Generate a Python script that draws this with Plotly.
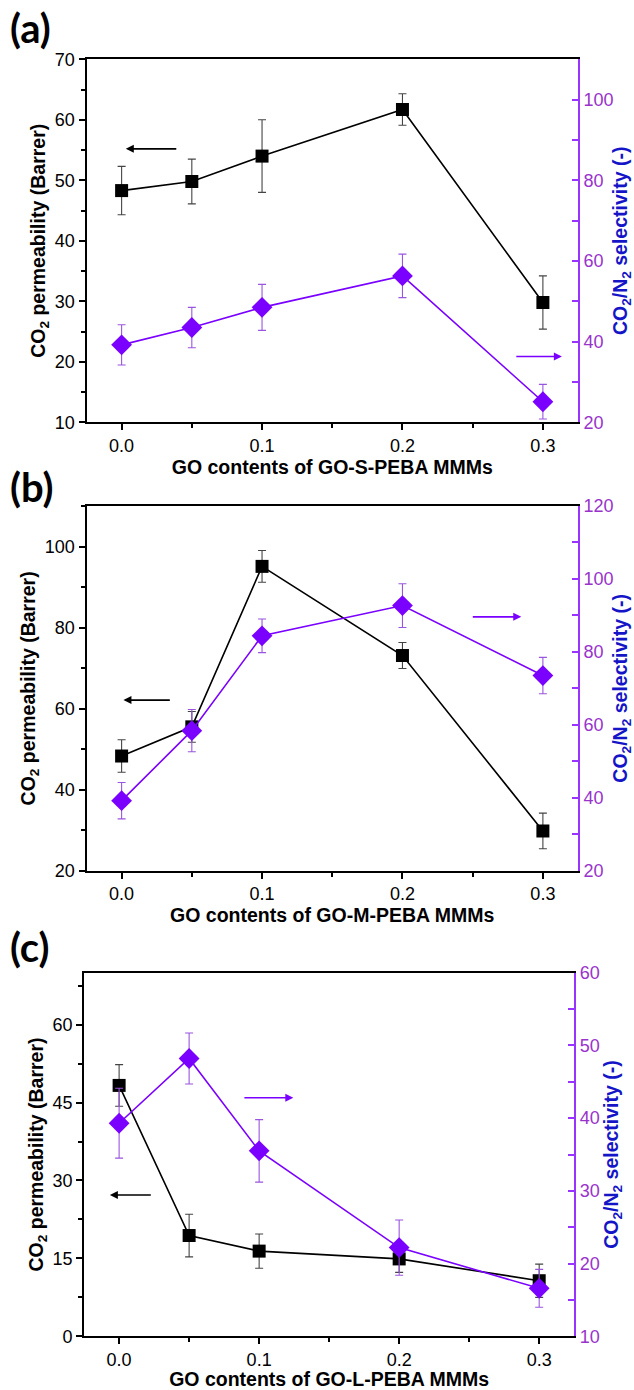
import plotly.graph_objects as go

# ---------------- data ----------------
go_content = [0.0, 0.05, 0.1, 0.2, 0.3]

perm_a = [48.3, 49.8, 54.0, 61.7, 29.8]
perm_a_err = [4.0, 3.7, 6.0, 2.6, 4.4]
sel_a = [39.2, 43.5, 48.5, 56.3, 25.1]
sel_a_err = [5.0, 5.0, 5.7, 5.4, 4.3]

perm_b = [48.3, 55.5, 95.1, 73.1, 29.8]
perm_b_err = [4.0, 3.8, 3.9, 3.2, 4.4]
sel_b = [39.2, 58.4, 84.4, 92.7, 73.5]
sel_b_err = [5.0, 5.8, 4.6, 6.0, 5.0]

perm_c = [48.3, 19.4, 16.4, 14.9, 10.7]
perm_c_err = [4.0, 4.1, 3.3, 2.6, 3.2]
sel_c = [39.3, 48.2, 35.5, 22.2, 16.6]
sel_c_err = [4.8, 3.5, 4.3, 3.8, 2.6]

x_ticks = [0.0, 0.1, 0.2, 0.3]
x_ticktext = ["0.0", "0.1", "0.2", "0.3"]

panels = [
    dict(label="(a)", perm=perm_a, perm_err=perm_a_err, sel=sel_a, sel_err=sel_a_err,
         xtitle="GO contents of GO-S-PEBA MMMs",
         yl_range=[10, 70], yl_dtick=10, yl_minor=5,
         yr_range=[20, 110], yr_tickvals=[20, 40, 60, 80, 100], yr_minor=10,
         arrow_left=dict(x=0.003, y=55.2, ax=0.040, ay=55.2),
         arrow_right=dict(x=0.3135, y=36.3, ax=0.28, ay=36.3)),
    dict(label="(b)", perm=perm_b, perm_err=perm_b_err, sel=sel_b, sel_err=sel_b_err,
         xtitle="GO contents of GO-M-PEBA MMMs",
         yl_range=[20, 110], yl_dtick=20, yl_minor=10,
         yr_range=[20, 120], yr_tickvals=[20, 40, 60, 80, 100, 120], yr_minor=10,
         arrow_left=dict(x=0.0013, y=62.1, ax=0.0354, ay=62.1),
         arrow_right=dict(x=0.2846, y=89.6, ax=0.249, ay=89.6)),
    dict(label="(c)", perm=perm_c, perm_err=perm_c_err, sel=sel_c, sel_err=sel_c_err,
         xtitle="GO contents of GO-L-PEBA MMMs",
         yl_range=[0, 70], yl_dtick=15, yl_minor=7.5,
         yr_range=[10, 60], yr_tickvals=[10, 20, 30, 40, 50, 60], yr_minor=5,
         arrow_left=dict(x=-0.0066, y=27.2, ax=0.0237, ay=27.2),
         arrow_right=dict(x=0.1244, y=42.8, ax=0.0884, ay=42.8)),
]

# ---------------- layout geometry (paper coords) ----------------
W, H = 634, 1390
x_domains = [[86.5 / W, 578 / W], [86.5 / W, 578 / W], [84.1 / W, 574.2 / W]]
y_px = [(59.3, 422.3), (506.0, 870.7), (972.7, 1336.3)]
y_domains = [[1 - b / H, 1 - t / H] for (t, b) in y_px]
label_y = [28 / H, 487 / H, 947 / H]

PURPLE = "#7a00ff"
PURPLE_AX = "#9933ff"
PURPLE_TXT = "#9933cc"
BLUE = "#1515c8"
FONT = "Liberation Sans, Arial, sans-serif"

fig = go.Figure()
layout = dict(
    width=W, height=H, margin=dict(l=0, r=0, t=0, b=0),
    paper_bgcolor="white", plot_bgcolor="white", showlegend=False,
    font=dict(family=FONT, size=18, color="black"),
)
annotations = []

for i, p in enumerate(panels):
    n = i + 1
    xa = "x" if n == 1 else f"x{n}"
    yl = f"y{2 * n - 1}" if n > 1 else "y"
    yr = f"y{2 * n}"
    xa_key = "xaxis" if n == 1 else f"xaxis{n}"
    yl_key = "yaxis" if n == 1 else f"yaxis{2 * n - 1}"
    yr_key = f"yaxis{2 * n}"

    fig.add_trace(go.Scatter(
        x=go_content, y=p["perm"], xaxis=xa, yaxis=yl, mode="lines+markers",
        line=dict(color="black", width=1.6),
        marker=dict(symbol="square", size=13, color="black"),
        error_y=dict(type="data", array=p["perm_err"], color="#444444", thickness=1.1, width=4),
        cliponaxis=False,
    ))
    fig.add_trace(go.Scatter(
        x=go_content, y=p["sel"], xaxis=xa, yaxis=yr, mode="lines+markers",
        line=dict(color=PURPLE, width=1.6),
        marker=dict(symbol="diamond", size=16, color=PURPLE),
        error_y=dict(type="data", array=p["sel_err"], color="#9a55e0", thickness=1.1, width=4),
        cliponaxis=False,
    ))

    layout[xa_key] = dict(
        domain=x_domains[i], anchor=yl, range=[-0.025, 0.325],
        tickvals=x_ticks, ticktext=x_ticktext,
        ticks="outside", ticklen=6, tickwidth=1.5, tickcolor="black",
        minor=dict(ticks="outside", ticklen=4, tickwidth=1.5, tickcolor="black",
                   tickvals=[0.05, 0.15, 0.25]),
        showline=True, linecolor="black", linewidth=2, mirror=True,
        showgrid=False, zeroline=False,
        tickfont=dict(family=FONT, size=18, color="black"),
        title=dict(text=p["xtitle"], standoff=3,
                   font=dict(family=FONT, size=19.5, color="black", weight="bold")),
        automargin=False,
    )
    layout[yl_key] = dict(
        domain=y_domains[i], anchor=xa, range=p["yl_range"], dtick=p["yl_dtick"], tick0=0,
        ticks="outside", ticklen=6, tickwidth=1.5, tickcolor="black",
        minor=dict(ticks="outside", ticklen=4, tickwidth=1.5, tickcolor="black",
                   dtick=p["yl_minor"], tick0=0),
        showline=True, linecolor="black", linewidth=2, mirror=False,
        showgrid=False, zeroline=False,
        tickfont=dict(family=FONT, size=18, color="black"),
        title=dict(text="CO<sub>2</sub> permeability (Barrer)", standoff=4,
                   font=dict(family=FONT, size=19.5, color="black", weight="bold")),
        automargin=False,
    )
    layout[yr_key] = dict(
        overlaying=yl, side="right", anchor=xa, range=p["yr_range"],
        tickvals=p["yr_tickvals"],
        ticks="inside", ticklen=6, tickwidth=1.5, tickcolor=PURPLE_AX,
        minor=dict(ticks="inside", ticklen=6, tickwidth=1.5, tickcolor=PURPLE_AX,
                   dtick=p["yr_minor"], tick0=0),
        showline=True, linecolor=PURPLE_AX, linewidth=2,
        showgrid=False, zeroline=False,
        tickfont=dict(family=FONT, size=18, color=PURPLE_TXT),
        title=dict(text="CO<sub>2</sub>/N<sub>2</sub> selectivity (-)", standoff=4,
                   font=dict(family=FONT, size=19.5, color=BLUE, weight="bold")),
        automargin=False,
    )

    al = p["arrow_left"]
    annotations.append(dict(
        x=al["x"], y=al["y"], ax=al["ax"], ay=al["ay"], xref=xa, yref=yl, axref=xa, ayref=yl,
        text="", showarrow=True, arrowhead=2, arrowsize=1, arrowwidth=1.6, arrowcolor="black",
    ))
    ar = p["arrow_right"]
    annotations.append(dict(
        x=ar["x"], y=ar["y"], ax=ar["ax"], ay=ar["ay"], xref=xa, yref=yr, axref=xa, ayref=yr,
        text="", showarrow=True, arrowhead=2, arrowsize=1, arrowwidth=1.6, arrowcolor=PURPLE,
    ))
    annotations.append(dict(
        x=8 / W, y=1 - label_y[i], xref="paper", yref="paper", xanchor="left", yanchor="middle",
        text=p["label"], showarrow=False,
        font=dict(family="Lato, Open Sans, sans-serif", size=40, color="black", weight="bold"),
    ))

layout["annotations"] = annotations
fig.update_layout(**layout)
fig.write_html(
    "out.html",
    config={"displayModeBar": False},
    post_script="document.body.style.margin='0';document.body.style.overflow='hidden';",
)
